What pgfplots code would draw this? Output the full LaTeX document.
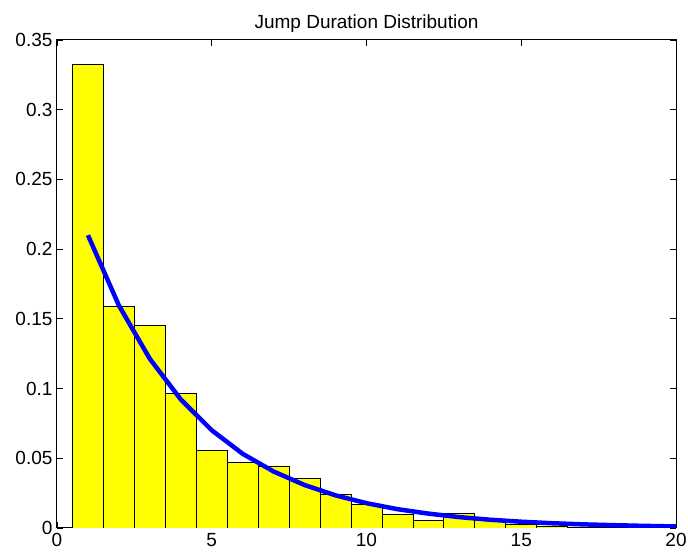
\documentclass[border=0pt]{standalone}
\usepackage{fontspec}
\setmainfont{Liberation Sans}
\usepackage{pgfplots}
\pgfplotsset{compat=1.18}
\definecolor{histyellow}{RGB}{255,255,0}
\definecolor{fitblue}{RGB}{0,0,255}

% histogram counts (normalised), bins of width 1 centred on 1..19
\pgfplotstableread{
x     y
0.5   0.3326
1.5   0.1590
2.5   0.1450
3.5   0.0966
4.5   0.0557
5.5   0.0471
6.5   0.0445
7.5   0.0356
8.5   0.0242
9.5   0.0170
10.5  0.0096
11.5  0.0055
12.5  0.0105
13.5  0.0065
14.5  0.0024
15.5  0.0014
16.5  0.0006
17.5  0.0003
18.5  0.0002
19.5  0
}\hist

% fitted curve
\pgfplotstableread{
x   y
1   0.2100
2   0.1596
3   0.1213
4   0.0922
5   0.0701
6   0.0532
7   0.0405
8   0.0308
9   0.0234
10  0.0178
11  0.0135
12  0.0103
13  0.0078
14  0.0059
15  0.0045
16  0.0034
17  0.0026
18  0.0020
19  0.0015
20  0.0011
}\fit

\begin{document}
\begin{tikzpicture}[font=\fontsize{19}{22}\selectfont]
\begin{axis}[
    scale only axis,
    width=619pt, height=488pt,
    xmin=0, xmax=20,
    ymin=0, ymax=0.35,
    xtick={0,5,10,15,20},
    ytick={0,0.05,0.1,0.15,0.2,0.25,0.3,0.35},
    yticklabels={0,0.05,0.1,0.15,0.2,0.25,0.3,0.35},
    /pgf/number format/assume math mode=true,
    tick align=inside,
    major tick length=6pt,
    tick style={black, line width=0.8pt},
    axis line style={line width=1pt},
    xticklabel style={yshift=-2pt},
    yticklabel style={xshift=-1pt},
    title={Jump Duration Distribution},
    title style={yshift=-2pt},
]
\addplot[ybar interval, fill=histyellow, draw=black, line width=0.8pt] table {\hist};
\addplot[fitblue, line width=4.5pt, line join=round] table {\fit};
\end{axis}
\pgfresetboundingbox
\path (current axis.south west) ++(-57pt,-29pt) rectangle ([shift={(12pt,40pt)}]current axis.north east);
\end{tikzpicture}
\end{document}
